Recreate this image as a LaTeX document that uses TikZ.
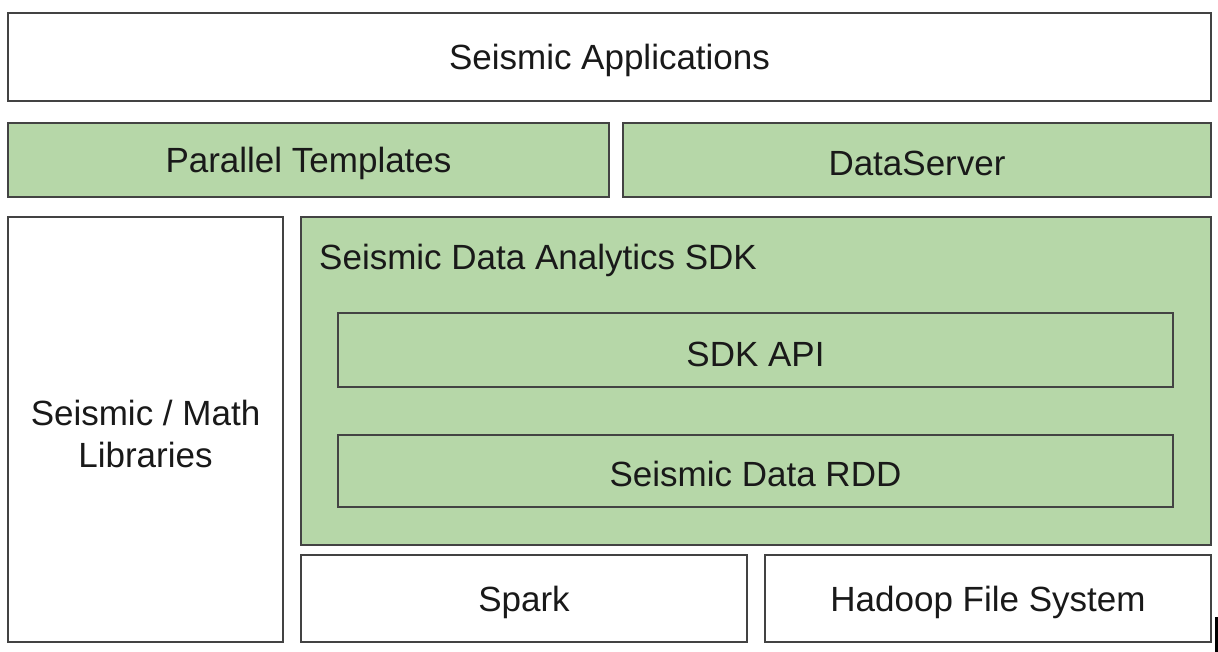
\documentclass[tikz,border=0pt]{standalone}
\usepackage{fontspec}
\setmainfont{Liberation Sans}
\definecolor{lgreen}{HTML}{B6D7A8}
\definecolor{edge}{HTML}{434343}
\begin{document}
\begin{tikzpicture}[x=1pt,y=-1pt,
  box/.style={draw=edge,line width=2.5pt,fill=white},
  gbox/.style={draw=edge,line width=2.5pt,fill=lgreen},
  lbl/.style={font=\fontsize{35}{42}\selectfont,text=black!90,align=center,inner sep=0pt}]
\useasboundingbox[fill=white] (0,0) rectangle (1218,652);
\draw[box] (8,13) rectangle (1211,101);
\node[lbl] (apps) at (609.5,60) {Seismic Applications};
\draw[gbox] (8,123) rectangle (609,197);
\node[lbl] (pt) at (308.5,163) {Parallel Templates};
\draw[gbox] (623,123) rectangle (1211,197);
\node[lbl] (ds) at (917,163) {DataServer};
\draw[box] (8,217) rectangle (283,642);
\node[lbl] (lib) at (145.5,434) {Seismic / Math\\Libraries};
\draw[gbox] (301,217) rectangle (1211,545);
\node[lbl,anchor=west] (sdk) at (319,260) {Seismic Data Analytics SDK};
\draw[draw=edge,line width=2pt] (338,313) rectangle (1173,387);
\node[lbl] (api) at (755.5,354) {SDK API};
\draw[draw=edge,line width=2pt] (338,435) rectangle (1173,507);
\node[lbl] (rdd) at (755.5,474) {Seismic Data RDD};
\draw[box] (301,555) rectangle (747,642);
\node[lbl] (spark) at (524,602) {Spark};
\draw[box] (765,555) rectangle (1211,642);
\node[lbl] (hdfs) at (988,602) {Hadoop File System};
\fill[black] (1214.5,617) rectangle (1217.5,652);
\end{tikzpicture}
\end{document}
